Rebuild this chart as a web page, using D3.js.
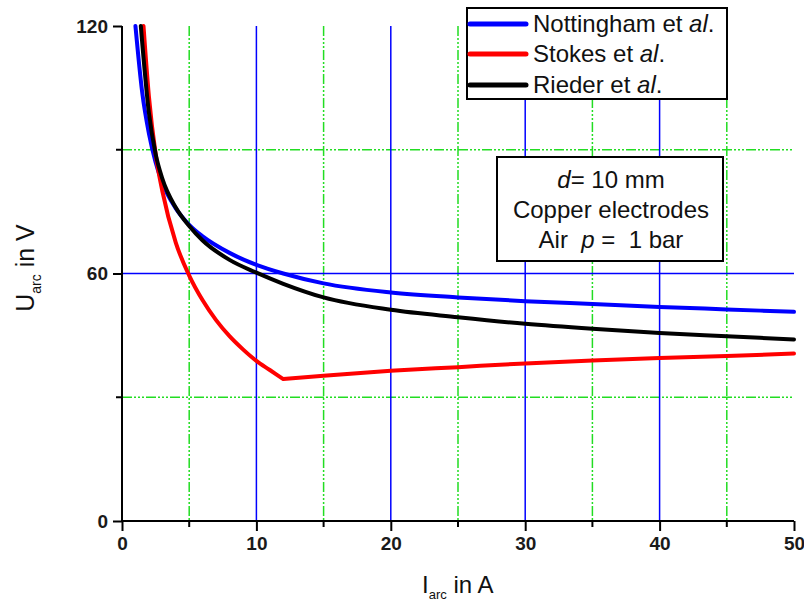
<!DOCTYPE html>
<html>
<head>
<meta charset="utf-8">
<script src="https://cdn.jsdelivr.net/npm/d3@7"></script>
<style>
  html, body { margin: 0; padding: 0; background: #fff; }
  svg { display: block; font-family: "Liberation Sans", Arial, sans-serif; }
</style>
</head>
<body>
<svg id="chart" width="804" height="602"></svg>
<script>
// ---- data ----
const nottinghamI = [1.0, 1.5, 2, 2.5, 3, 4, 5, 6, 8, 10, 12, 15, 20, 25, 30, 35, 40, 45, 50];
const nottinghamU = [120, 104, 94, 87, 82, 75.8, 71.8, 69, 65, 62.1, 60, 57.6, 55.4, 54.2, 53.3, 52.6, 51.9, 51.3, 50.7];

const stokesI = [1.6, 2, 2.5, 3, 4, 5, 6, 7, 8, 9, 10, 11, 12, 15, 20, 25, 30, 35, 40, 45, 50];
const stokesU = [120, 103, 89, 80, 67.5, 59.5, 53.5, 48.7, 44.8, 41.6, 38.8, 36.6, 34.4, 35.2, 36.4, 37.3, 38.2, 38.9, 39.5, 40.0, 40.6];

const riederI = [1.4, 2, 2.5, 3, 4, 5, 6, 8, 10, 12, 15, 20, 25, 30, 35, 40, 45, 50];
const riederU = [120, 99, 89, 83, 76, 71.5, 68, 63.3, 60.2, 57.5, 54.2, 51.2, 49.4, 47.8, 46.6, 45.6, 44.8, 44.0];

const seriesNames = ["Nottingham et ", "Stokes et ", "Rieder et "];
const seriesColors = ["#0000ff", "#ff0000", "#000000"];

const xMajorTicks = [0, 10, 20, 30, 40, 50];
const xMinorTicks = [5, 15, 25, 35, 45];
const yMajorTicks = [0, 60, 120];
const yMinorTicks = [30, 90];
const blueGridX = [10, 20, 30, 40];
const greenGridX = [5, 15, 25, 35, 45];
const blueGridY = [60];
const greenGridY = [30, 90];

const boxLines = ["d", "Copper electrodes", "Air"];

// ---- chart ----
const svg = d3.select("#chart");
const x = d3.scaleLinear().domain([0, 50]).range([122, 794]);
const y = d3.scaleLinear().domain([0, 120]).range([521, 26]);

const grid = svg.append("g");
const greenDash = "10,2,2,2,2,2,2,2";
grid.selectAll(".gx").data(greenGridX).join("line")
  .attr("x1", d => x(d)).attr("x2", d => x(d)).attr("y1", y(120)).attr("y2", y(0))
  .attr("stroke", "#22dd22").attr("stroke-width", 1.5).attr("stroke-dasharray", greenDash);
grid.selectAll(".gy").data(greenGridY).join("line")
  .attr("x1", x(0)).attr("x2", x(50)).attr("y1", d => y(d)).attr("y2", d => y(d))
  .attr("stroke", "#22dd22").attr("stroke-width", 1.5).attr("stroke-dasharray", greenDash);
grid.selectAll(".bx").data(blueGridX).join("line")
  .attr("x1", d => x(d)).attr("x2", d => x(d)).attr("y1", y(120)).attr("y2", y(0))
  .attr("stroke", "#0000ff").attr("stroke-width", 1.5);
grid.selectAll(".by").data(blueGridY).join("line")
  .attr("x1", x(0)).attr("x2", x(50)).attr("y1", d => y(d)).attr("y2", d => y(d))
  .attr("stroke", "#0000ff").attr("stroke-width", 1.5);

// curves (split each series at its kink/minimum so the spline keeps the sharp corner)
const line = d3.line().x(d => x(d[0])).y(d => y(d[1])).curve(d3.curveMonotoneX);
function kinkedPath(pts) {
  const iMin = d3.minIndex(pts, d => d[1]);
  if (iMin <= 0 || iMin >= pts.length - 1) return line(pts);
  const a = line(pts.slice(0, iMin + 1));
  const b = line(pts.slice(iMin));
  return a + b.replace(/^M/, "L");
}
const series = [
  d3.zip(nottinghamI, nottinghamU),
  d3.zip(stokesI, stokesU),
  d3.zip(riederI, riederU)
];
series.forEach((s, i) => {
  svg.append("path").attr("d", kinkedPath(s))
    .attr("fill", "none").attr("stroke", seriesColors[i])
    .attr("stroke-width", 4).attr("stroke-linejoin", "round").attr("stroke-linecap", "round");
});

// axes
const xAxis = svg.append("g").attr("transform", `translate(0,${y(0)})`)
  .call(d3.axisBottom(x).tickValues(xMajorTicks).tickFormat(d3.format("d")).tickSize(10).tickPadding(6));
xAxis.append("g").selectAll("line").data(xMinorTicks).join("line")
  .attr("x1", d => x(d)).attr("x2", d => x(d)).attr("y1", 0).attr("y2", 6)
  .attr("stroke", "#000").attr("stroke-width", 2);
const yAxis = svg.append("g").attr("transform", `translate(${x(0)},0)`)
  .call(d3.axisLeft(y).tickValues(yMajorTicks).tickFormat(d3.format("d")).tickSize(9).tickPadding(5));
yAxis.append("g").selectAll("line").data(yMinorTicks).join("line")
  .attr("x1", 0).attr("x2", -6).attr("y1", d => y(d)).attr("y2", d => y(d))
  .attr("stroke", "#000").attr("stroke-width", 2);
[xAxis, yAxis].forEach(a => {
  a.select(".domain").attr("stroke", "#000").attr("stroke-width", 2);
  a.selectAll(".tick line").attr("stroke", "#000").attr("stroke-width", 2);
  a.selectAll(".tick text").attr("font-size", 19).attr("font-weight", "bold")
    .attr("fill", "#1a1a1a").attr("font-family", "Liberation Sans, Arial, sans-serif");
});
xAxis.select(".domain").attr("d", `M${x(0)},0H${x(50)}`);
yAxis.select(".domain").attr("d", `M0,${y(0)}V${y(120)}`);

// axis titles
const xt = svg.append("text").attr("x", 422).attr("y", 593)
  .attr("font-size", 24).attr("fill", "#111");
xt.append("tspan").text("I");
xt.append("tspan").attr("font-size", 13).attr("dy", 6).text("arc");
xt.append("tspan").attr("dy", -6).text(" in A");

const yt = svg.append("text").attr("transform", "translate(34,268) rotate(-90)")
  .attr("text-anchor", "middle").attr("font-size", 25).attr("fill", "#111");
yt.append("tspan").text("U");
yt.append("tspan").attr("font-size", 14).attr("dy", 7).text("arc");
yt.append("tspan").attr("dy", -7).text(" in V");

// legend
const lg = svg.append("g");
lg.append("rect").attr("x", 467).attr("y", 8).attr("width", 260).attr("height", 91)
  .attr("fill", "#fff").attr("stroke", "#000").attr("stroke-width", 2);
const rowY = [24, 54, 85];
seriesNames.forEach((name, i) => {
  lg.append("line").attr("x1", 470).attr("x2", 526).attr("y1", rowY[i]).attr("y2", rowY[i])
    .attr("stroke", seriesColors[i]).attr("stroke-width", 5).attr("stroke-linecap", "round");
  const t = lg.append("text").attr("x", 533).attr("y", rowY[i] + 8)
    .attr("font-size", 24).attr("fill", "#111");
  t.append("tspan").text(name);
  t.append("tspan").attr("font-style", "italic").text("al");
  t.append("tspan").text(".");
});

// annotation box
const ab = svg.append("g");
ab.append("rect").attr("x", 497).attr("y", 157).attr("width", 226).attr("height", 104)
  .attr("fill", "#fff").attr("stroke", "#000").attr("stroke-width", 2);
const cx = 611;
const t1 = ab.append("text").attr("x", cx).attr("y", 188).attr("text-anchor", "middle")
  .attr("font-size", 24).attr("fill", "#111");
t1.append("tspan").attr("font-style", "italic").text(boxLines[0]);
t1.append("tspan").text("= 10 mm");
ab.append("text").attr("x", cx).attr("y", 218).attr("text-anchor", "middle")
  .attr("font-size", 24).attr("fill", "#111").text(boxLines[1]);
const t3 = ab.append("text").attr("x", cx).attr("y", 248).attr("text-anchor", "middle")
  .attr("font-size", 24).attr("fill", "#111").attr("xml:space", "preserve").style("white-space", "pre");
t3.append("tspan").text(boxLines[2] + "  ");
t3.append("tspan").attr("font-style", "italic").text("p");
t3.append("tspan").text(" =  1 bar");
</script>
</body>
</html>
